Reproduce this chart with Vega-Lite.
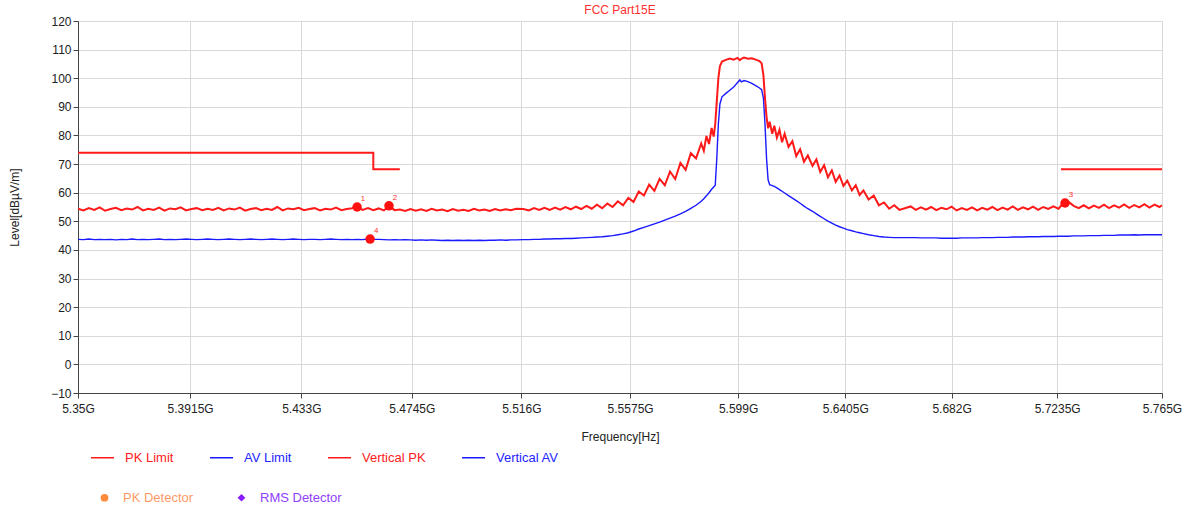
{
 "$schema": "https://vega.github.io/schema/vega-lite/v6.json",
 "width": 1084,
 "height": 372,
 "autosize": {"type": "none"},
 "padding": {"left": 78, "top": 21, "right": 31, "bottom": 118},
 "background": "white",
 "title": {"text": "FCC Part15E", "color": "#ff3030", "fontSize": 12, "fontWeight": "normal", "font": "Liberation Sans", "offset": -2, "anchor": "middle"},
 "config": {
  "view": {"stroke": null},
  "font": "Liberation Sans",
  "axis": {"labelFont": "Liberation Sans", "titleFont": "Liberation Sans", "labelFontSize": 12, "titleFontSize": 12, "titleFontWeight": "normal", "labelColor": "#222", "titleColor": "#222", "gridColor": "#d9d9d9", "domainColor": "#444", "tickColor": "#444", "tickSize": 5, "labelOverlap": false}
 },
 "datasets": {
  "trace": [
   {"f":5.350,"PK":54.4,"AV":43.7},{"f":5.352,"PK":53.8,"AV":43.6},{"f":5.354,"PK":54.6,"AV":43.8},{"f":5.356,"PK":54.0,"AV":43.6},{"f":5.358,"PK":54.9,"AV":43.7},
   {"f":5.360,"PK":53.7,"AV":43.6},{"f":5.362,"PK":54.3,"AV":43.7},{"f":5.364,"PK":54.7,"AV":43.5},{"f":5.366,"PK":53.9,"AV":43.7},{"f":5.368,"PK":54.5,"AV":43.6},
   {"f":5.370,"PK":54.1,"AV":43.8},{"f":5.372,"PK":55.0,"AV":43.6},{"f":5.374,"PK":53.8,"AV":43.7},{"f":5.376,"PK":54.4,"AV":43.6},{"f":5.378,"PK":54.0,"AV":43.7},
   {"f":5.380,"PK":54.8,"AV":43.8},{"f":5.382,"PK":53.7,"AV":43.6},{"f":5.384,"PK":54.5,"AV":43.7},{"f":5.386,"PK":54.2,"AV":43.6},{"f":5.388,"PK":54.9,"AV":43.7},
   {"f":5.390,"PK":53.8,"AV":43.8},{"f":5.392,"PK":54.3,"AV":43.7},{"f":5.394,"PK":54.6,"AV":43.6},{"f":5.396,"PK":53.9,"AV":43.7},{"f":5.398,"PK":54.4,"AV":43.8},
   {"f":5.400,"PK":54.0,"AV":43.7},{"f":5.402,"PK":54.7,"AV":43.6},{"f":5.404,"PK":53.8,"AV":43.7},{"f":5.406,"PK":54.5,"AV":43.8},{"f":5.408,"PK":54.1,"AV":43.7},
   {"f":5.410,"PK":54.8,"AV":43.6},{"f":5.412,"PK":53.7,"AV":43.7},{"f":5.414,"PK":54.3,"AV":43.8},{"f":5.416,"PK":54.6,"AV":43.7},{"f":5.418,"PK":53.9,"AV":43.6},
   {"f":5.420,"PK":54.4,"AV":43.7},{"f":5.422,"PK":54.0,"AV":43.8},{"f":5.424,"PK":55.0,"AV":43.7},{"f":5.426,"PK":53.8,"AV":43.6},{"f":5.428,"PK":54.5,"AV":43.7},
   {"f":5.430,"PK":54.2,"AV":43.8},{"f":5.432,"PK":54.7,"AV":43.7},{"f":5.434,"PK":53.9,"AV":43.6},{"f":5.436,"PK":54.3,"AV":43.7},{"f":5.438,"PK":54.6,"AV":43.7},
   {"f":5.440,"PK":53.8,"AV":43.6},{"f":5.442,"PK":54.4,"AV":43.7},{"f":5.444,"PK":54.1,"AV":43.8},{"f":5.446,"PK":54.8,"AV":43.7},{"f":5.448,"PK":53.9,"AV":43.6},
   {"f":5.450,"PK":54.3,"AV":43.7},{"f":5.452,"PK":54.6,"AV":43.6},{"f":5.454,"PK":55.0,"AV":43.7},{"f":5.456,"PK":54.0,"AV":43.6},{"f":5.458,"PK":54.6,"AV":43.8},
   {"f":5.460,"PK":53.9,"AV":43.7},{"f":5.462,"PK":54.5,"AV":43.7},{"f":5.464,"PK":53.8,"AV":43.6},{"f":5.466,"PK":55.4,"AV":43.5},{"f":5.468,"PK":53.9,"AV":43.6},
   {"f":5.470,"PK":54.1,"AV":43.5},{"f":5.472,"PK":53.6,"AV":43.6},{"f":5.474,"PK":54.3,"AV":43.5},{"f":5.476,"PK":53.7,"AV":43.4},{"f":5.478,"PK":54.2,"AV":43.5},
   {"f":5.480,"PK":53.6,"AV":43.4},{"f":5.482,"PK":54.4,"AV":43.5},{"f":5.484,"PK":53.8,"AV":43.4},{"f":5.486,"PK":54.1,"AV":43.3},{"f":5.488,"PK":53.5,"AV":43.4},
   {"f":5.490,"PK":54.3,"AV":43.3},{"f":5.492,"PK":53.7,"AV":43.4},{"f":5.494,"PK":54.0,"AV":43.3},{"f":5.496,"PK":53.6,"AV":43.4},{"f":5.498,"PK":54.4,"AV":43.3},
   {"f":5.500,"PK":53.8,"AV":43.4},{"f":5.502,"PK":54.1,"AV":43.3},{"f":5.504,"PK":53.6,"AV":43.4},{"f":5.506,"PK":54.3,"AV":43.4},{"f":5.508,"PK":53.8,"AV":43.5},
   {"f":5.510,"PK":54.2,"AV":43.4},{"f":5.512,"PK":53.9,"AV":43.5},{"f":5.514,"PK":54.4,"AV":43.5},
   {"f":5.5168,"PK":54.3,"AV":43.6},{"f":5.5188,"PK":53.8,"AV":43.6},{"f":5.5208,"PK":54.6,"AV":43.7},{"f":5.5228,"PK":54.0,"AV":43.7},{"f":5.5248,"PK":54.7,"AV":43.8},
   {"f":5.5268,"PK":54.0,"AV":43.8},{"f":5.5288,"PK":54.8,"AV":43.9},{"f":5.5308,"PK":54.1,"AV":43.9},{"f":5.5328,"PK":55.0,"AV":44.0},{"f":5.5348,"PK":54.2,"AV":44.0},
   {"f":5.5368,"PK":55.1,"AV":44.1},{"f":5.5388,"PK":54.3,"AV":44.2},{"f":5.5408,"PK":55.4,"AV":44.3},{"f":5.5428,"PK":54.4,"AV":44.4},{"f":5.5448,"PK":55.8,"AV":44.5},
   {"f":5.5468,"PK":54.6,"AV":44.6},{"f":5.5488,"PK":56.2,"AV":44.8},{"f":5.5508,"PK":55.0,"AV":45.0},{"f":5.5528,"PK":57.0,"AV":45.3},{"f":5.5548,"PK":55.6,"AV":45.6},
   {"f":5.5568,"PK":58.2,"AV":46.0},{"f":5.5588,"PK":56.8,"AV":46.6},{"f":5.5608,"PK":60.4,"AV":47.3},{"f":5.5628,"PK":59.0,"AV":47.9},{"f":5.5648,"PK":62.8,"AV":48.5},
   {"f":5.5668,"PK":60.6,"AV":49.1},{"f":5.5688,"PK":64.8,"AV":49.7},{"f":5.5708,"PK":62.6,"AV":50.4},{"f":5.5728,"PK":67.4,"AV":51.1},{"f":5.5748,"PK":64.8,"AV":51.8},
   {"f":5.5768,"PK":70.4,"AV":52.6},{"f":5.5788,"PK":68.0,"AV":53.5},{"f":5.5808,"PK":73.8,"AV":54.5},{"f":5.5828,"PK":72.0,"AV":55.6},{"f":5.5848,"PK":77.2,"AV":57.0},
   {"f":5.5858,"PK":74.6,"AV":57.9},{"f":5.5868,"PK":79.8,"AV":58.9},{"f":5.5878,"PK":77.0,"AV":60.0},{"f":5.5888,"PK":82.6,"AV":61.2},{"f":5.5896,"PK":79.6,"AV":62.0},
   {"f":5.5902,"PK":84.0,"AV":62.6},{"f":5.5908,"PK":92.0,"AV":72.0},{"f":5.5914,"PK":100.0,"AV":84.0},{"f":5.5920,"PK":104.2,"AV":91.0},{"f":5.5928,"PK":105.8,"AV":93.5},
   {"f":5.5943,"PK":106.4,"AV":94.7},{"f":5.5958,"PK":106.9,"AV":95.8},{"f":5.5973,"PK":106.5,"AV":96.9},{"f":5.5988,"PK":107.1,"AV":98.5},{"f":5.5997,"PK":106.3,"AV":99.4},
   {"f":5.6003,"PK":106.8,"AV":98.7},{"f":5.6013,"PK":107.2,"AV":99.2},{"f":5.6028,"PK":106.8,"AV":98.8},{"f":5.6043,"PK":107.0,"AV":98.2},{"f":5.6058,"PK":106.5,"AV":97.4},
   {"f":5.6073,"PK":106.0,"AV":96.6},{"f":5.6081,"PK":105.2,"AV":96.0},{"f":5.6088,"PK":101.0,"AV":93.0},{"f":5.6094,"PK":93.0,"AV":84.0},{"f":5.6100,"PK":86.5,"AV":72.0},
   {"f":5.6106,"PK":82.5,"AV":64.5},{"f":5.6112,"PK":84.8,"AV":62.8},{"f":5.6122,"PK":80.6,"AV":62.5},{"f":5.6130,"PK":83.4,"AV":62.2},{"f":5.6140,"PK":79.2,"AV":61.7},
   {"f":5.6150,"PK":82.0,"AV":61.1},{"f":5.6160,"PK":77.6,"AV":60.5},{"f":5.6170,"PK":80.6,"AV":59.9},{"f":5.6185,"PK":76.0,"AV":59.0},{"f":5.6200,"PK":78.0,"AV":58.1},
   {"f":5.6215,"PK":72.8,"AV":57.2},{"f":5.6230,"PK":75.2,"AV":56.3},{"f":5.6245,"PK":70.8,"AV":55.3},{"f":5.6260,"PK":73.0,"AV":54.4},{"f":5.6278,"PK":69.4,"AV":53.5},
   {"f":5.6293,"PK":71.6,"AV":52.6},{"f":5.6308,"PK":67.2,"AV":51.7},{"f":5.6323,"PK":69.6,"AV":50.9},{"f":5.6338,"PK":65.4,"AV":50.1},{"f":5.6353,"PK":67.8,"AV":49.4},
   {"f":5.6368,"PK":63.8,"AV":48.7},{"f":5.6383,"PK":66.0,"AV":48.1},{"f":5.6398,"PK":62.4,"AV":47.6},{"f":5.6413,"PK":64.2,"AV":47.1},{"f":5.6431,"PK":60.8,"AV":46.7},
   {"f":5.6446,"PK":62.6,"AV":46.3},{"f":5.6461,"PK":59.2,"AV":46.0},{"f":5.6476,"PK":60.8,"AV":45.7},{"f":5.6496,"PK":57.6,"AV":45.3},{"f":5.6516,"PK":59.0,"AV":45.0},
   {"f":5.6536,"PK":55.6,"AV":44.7},{"f":5.6556,"PK":56.6,"AV":44.5},{"f":5.6576,"PK":54.4,"AV":44.4},{"f":5.6596,"PK":55.6,"AV":44.3},{"f":5.6616,"PK":54.0,"AV":44.3},
   {"f":5.666,"PK":55.2,"AV":44.3},{"f":5.668,"PK":54.0,"AV":44.3},{"f":5.670,"PK":54.9,"AV":44.2},{"f":5.672,"PK":54.1,"AV":44.2},{"f":5.674,"PK":55.0,"AV":44.2},
   {"f":5.676,"PK":53.9,"AV":44.2},{"f":5.678,"PK":54.7,"AV":44.1},{"f":5.680,"PK":54.2,"AV":44.1},{"f":5.682,"PK":55.1,"AV":44.1},{"f":5.684,"PK":53.8,"AV":44.1},
   {"f":5.686,"PK":54.6,"AV":44.2},{"f":5.688,"PK":54.0,"AV":44.2},{"f":5.690,"PK":54.9,"AV":44.2},{"f":5.692,"PK":53.8,"AV":44.2},{"f":5.694,"PK":54.7,"AV":44.3},
   {"f":5.696,"PK":54.1,"AV":44.3},{"f":5.698,"PK":55.0,"AV":44.3},{"f":5.700,"PK":53.9,"AV":44.4},{"f":5.702,"PK":54.8,"AV":44.4},{"f":5.704,"PK":54.1,"AV":44.4},
   {"f":5.706,"PK":55.2,"AV":44.5},{"f":5.708,"PK":54.0,"AV":44.5},{"f":5.710,"PK":54.9,"AV":44.5},{"f":5.712,"PK":54.2,"AV":44.6},{"f":5.714,"PK":55.1,"AV":44.6},
   {"f":5.716,"PK":54.0,"AV":44.6},{"f":5.718,"PK":55.0,"AV":44.7},{"f":5.720,"PK":54.3,"AV":44.7},{"f":5.722,"PK":55.2,"AV":44.7},{"f":5.724,"PK":54.4,"AV":44.8},
   {"f":5.726,"PK":56.4,"AV":44.8},{"f":5.728,"PK":56.8,"AV":44.8},{"f":5.730,"PK":55.4,"AV":44.9},{"f":5.732,"PK":54.6,"AV":44.9},{"f":5.734,"PK":55.6,"AV":44.9},
   {"f":5.736,"PK":54.5,"AV":45.0},{"f":5.738,"PK":55.5,"AV":45.0},{"f":5.740,"PK":54.7,"AV":45.0},{"f":5.742,"PK":55.8,"AV":45.1},{"f":5.744,"PK":54.6,"AV":45.1},
   {"f":5.746,"PK":55.6,"AV":45.1},{"f":5.748,"PK":54.8,"AV":45.2},{"f":5.750,"PK":55.9,"AV":45.2},{"f":5.752,"PK":54.7,"AV":45.2},{"f":5.754,"PK":55.7,"AV":45.3},
   {"f":5.756,"PK":54.9,"AV":45.2},{"f":5.758,"PK":56.0,"AV":45.3},{"f":5.760,"PK":54.8,"AV":45.3},{"f":5.762,"PK":55.8,"AV":45.3},{"f":5.764,"PK":55.0,"AV":45.3},
   {"f":5.765,"PK":55.6,"AV":45.3}
  ],
  "limit": [
   {"f":5.35,"v":74,"s":"PK Limit","g":1,"o":1},
   {"f":5.46,"v":74,"s":"PK Limit","g":1,"o":2},
   {"f":5.46,"v":68.2,"s":"PK Limit","g":1,"o":3},
   {"f":5.47,"v":68.2,"s":"PK Limit","g":1,"o":4},
   {"f":5.725,"v":68.2,"s":"PK Limit","g":2,"o":5},
   {"f":5.765,"v":68.2,"s":"PK Limit","g":2,"o":6}
  ],
  "mk": [
   {"f":5.4539,"v":55.0,"n":"1","d":"PK Detector"},
   {"f":5.4659,"v":55.4,"n":"2","d":"PK Detector"},
   {"f":5.7266,"v":56.4,"n":"3","d":"PK Detector"},
   {"f":5.4588,"v":43.8,"n":"4","d":"RMS Detector"}
  ]
 },
 "layer": [
  {
   "data": {"name": "limit"},
   "mark": {"type": "line", "strokeWidth": 2},
   "encoding": {
    "x": {"field": "f", "type": "quantitative", "scale": {"type": "log", "domain": [5.35, 5.765], "nice": false},
      "axis": {"values": [5.35, 5.3915, 5.433, 5.4745, 5.516, 5.5575, 5.599, 5.6405, 5.682, 5.7235, 5.765], "tickCount": 11, "labelExpr": "format(datum.value, '.4~f') + 'G'", "title": "Frequency[Hz]", "grid": true, "labelPadding": 5, "titlePadding": 17, "labelFlush": false}},
    "y": {"field": "v", "type": "quantitative", "scale": {"domain": [-10, 120], "nice": false, "zero": false},
      "axis": {"values": [-10, 0, 10, 20, 30, 40, 50, 60, 70, 80, 90, 100, 110, 120], "tickCount": 14, "title": "Level[dBµV/m]", "grid": true, "labelPadding": 2, "titlePadding": 29, "labelFlush": false}},
    "color": {"field": "s", "type": "nominal",
      "scale": {"domain": ["PK Limit", "AV Limit", "PK", "AV"], "range": ["#ff1a1a", "#1a1aff", "#ff1a1a", "#1a1aff"]},
      "legend": {"orient": "none", "legendX": 12, "legendY": 424, "direction": "horizontal", "columns": 4, "title": null, "symbolType": "stroke", "symbolSize": 529, "symbolStrokeWidth": 1.5, "labelFontSize": 13, "labelFont": "Liberation Sans", "labelOffset": 10, "columnPadding": 33, "padding": 0,
        "labelExpr": "datum.value == 'PK' ? 'Vertical PK' : (datum.value == 'AV' ? 'Vertical AV' : datum.label)",
        "encode": {"labels": {"update": {"fill": {"signal": "indexof(['PK Limit','PK'], datum.value) >= 0 ? '#ff2020' : '#2424ff'"}}}}}},
    "detail": {"field": "g"},
    "order": {"field": "o"}
   }
  },
  {
   "data": {"name": "trace"},
   "transform": [{"fold": ["AV", "PK"], "as": ["s", "v"]}, {"filter": {"field": "s", "equal": "AV"}}],
   "mark": {"type": "line", "strokeWidth": 1.4},
   "encoding": {
    "x": {"field": "f", "type": "quantitative"},
    "y": {"field": "v", "type": "quantitative"},
    "color": {"field": "s", "type": "nominal"}
   }
  },
  {
   "data": {"name": "trace"},
   "transform": [{"fold": ["AV", "PK"], "as": ["s", "v"]}, {"filter": {"field": "s", "equal": "PK"}}],
   "mark": {"type": "line", "strokeWidth": 2},
   "encoding": {
    "x": {"field": "f", "type": "quantitative"},
    "y": {"field": "v", "type": "quantitative"},
    "color": {"field": "s", "type": "nominal"}
   }
  },
  {
   "data": {"name": "mk"},
   "mark": {"type": "point", "filled": true, "opacity": 0},
   "encoding": {
    "x": {"field": "f", "type": "quantitative"},
    "y": {"field": "v", "type": "quantitative"},
    "fill": {"field": "d", "type": "nominal", "scale": {"domain": ["PK Detector", "RMS Detector"], "range": ["#ff8a3d", "#8a1aff"]},
      "legend": {"orient": "none", "legendX": 20, "legendY": 470, "direction": "horizontal", "title": null, "symbolSize": 60, "symbolOpacity": 1, "labelFontSize": 13, "labelFont": "Liberation Sans", "labelOffset": 12, "columnPadding": 41, "padding": 0,
        "encode": {"labels": {"update": {"fill": {"signal": "datum.value == 'PK Detector' ? '#ff9a66' : '#9040ff'"}}}}}},
    "shape": {"field": "d", "type": "nominal", "scale": {"domain": ["PK Detector", "RMS Detector"], "range": ["circle", "diamond"]},
      "legend": {"orient": "none", "legendX": 20, "legendY": 470, "direction": "horizontal", "title": null, "symbolSize": 60, "symbolOpacity": 1, "labelFontSize": 13, "labelFont": "Liberation Sans", "labelOffset": 12, "columnPadding": 41, "padding": 0,
        "encode": {"labels": {"update": {"fill": {"signal": "datum.value == 'PK Detector' ? '#ff9a66' : '#9040ff'"}}}}}}
   }
  },
  {
   "data": {"name": "mk"},
   "mark": {"type": "point", "filled": true, "color": "#ff1010", "size": 90, "opacity": 1, "shape": "circle"},
   "encoding": {
    "x": {"field": "f", "type": "quantitative"},
    "y": {"field": "v", "type": "quantitative"}
   }
  },
  {
   "data": {"name": "mk"},
   "mark": {"type": "text", "color": "#ff3030", "fontSize": 8, "dx": 6, "dy": -8},
   "encoding": {
    "x": {"field": "f", "type": "quantitative"},
    "y": {"field": "v", "type": "quantitative"},
    "text": {"field": "n"}
   }
  }
 ]
}
